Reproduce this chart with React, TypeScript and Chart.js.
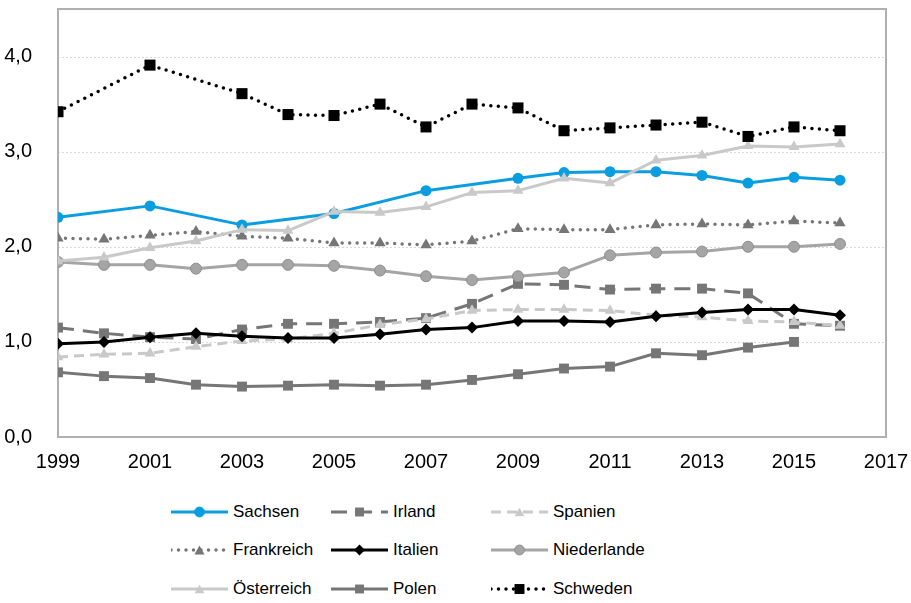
import React, { useEffect, useRef } from "react";
import { Chart, registerables } from "chart.js";
Chart.register(...registerables);

const years = [1999, 2000, 2001, 2002, 2003, 2004, 2005, 2006, 2007, 2008, 2009, 2010, 2011, 2012, 2013, 2014, 2015, 2016];
const sachsen = [2.31, null, 2.43, null, 2.23, null, 2.35, null, 2.59, null, 2.72, 2.78, 2.79, 2.79, 2.75, 2.67, 2.73, 2.70];
const irland = [1.15, 1.09, 1.05, 1.03, 1.13, 1.19, 1.19, 1.21, 1.25, 1.40, 1.61, 1.60, 1.55, 1.56, 1.56, 1.51, 1.19, 1.17];
const spanien = [0.84, 0.87, 0.88, 0.95, 1.01, 1.03, 1.09, 1.18, 1.24, 1.33, 1.34, 1.34, 1.33, 1.28, 1.26, 1.22, 1.21, 1.17];
const frankreich = [2.09, 2.08, 2.12, 2.16, 2.11, 2.09, 2.04, 2.04, 2.02, 2.06, 2.19, 2.18, 2.18, 2.23, 2.24, 2.23, 2.27, 2.25];
const italien = [0.98, 1.00, 1.05, 1.09, 1.06, 1.04, 1.04, 1.08, 1.13, 1.15, 1.22, 1.22, 1.21, 1.27, 1.31, 1.34, 1.34, 1.28];
const niederlande = [1.84, 1.81, 1.81, 1.77, 1.81, 1.81, 1.80, 1.75, 1.69, 1.65, 1.69, 1.73, 1.91, 1.94, 1.95, 2.00, 2.00, 2.03];
const oesterreich = [1.85, 1.89, 1.99, 2.06, 2.18, 2.17, 2.37, 2.36, 2.42, 2.57, 2.59, 2.72, 2.67, 2.91, 2.96, 3.06, 3.05, 3.08];
const polen = [0.68, 0.64, 0.62, 0.55, 0.53, 0.54, 0.55, 0.54, 0.55, 0.60, 0.66, 0.72, 0.74, 0.88, 0.86, 0.94, 1.00, null];
const schweden = [3.42, null, 3.91, null, 3.61, 3.39, 3.38, 3.50, 3.26, 3.50, 3.46, 3.22, 3.25, 3.28, 3.31, 3.16, 3.26, 3.22];

const xTicks = [1999, 2001, 2003, 2005, 2007, 2009, 2011, 2013, 2015, 2017];
const yTicks = [0, 1, 2, 3, 4];

type S = {
  name: string;
  data: (number | null)[];
  color: string;
  dash: number[];
  cap: CanvasLineCap;
  width: number;
  point: string;
  radius: number;
  pointBorder?: string;
};

const series: S[] = [
  { name: "Sachsen", data: sachsen, color: "#0a9ee0", dash: [], cap: "butt", width: 3, point: "circle", radius: 5.5 },
  { name: "Irland", data: irland, color: "#767676", dash: [16, 9], cap: "butt", width: 3, point: "rect", radius: 7 },
  { name: "Spanien", data: spanien, color: "#c9c9c9", dash: [10, 6], cap: "butt", width: 3, point: "triangle", radius: 6.3 },
  { name: "Frankreich", data: frankreich, color: "#767676", dash: [0, 7.5], cap: "round", width: 3.5, point: "triangle", radius: 6.5 },
  { name: "Italien", data: italien, color: "#000000", dash: [], cap: "butt", width: 3, point: "rectRot", radius: 6 },
  { name: "Niederlande", data: niederlande, color: "#a5a5a5", dash: [], cap: "butt", width: 3, point: "circle", radius: 5.5, pointBorder: "#8f8f8f" },
  { name: "Österreich", data: oesterreich, color: "#c9c9c9", dash: [], cap: "butt", width: 3, point: "triangle", radius: 6.3 },
  { name: "Polen", data: polen, color: "#767676", dash: [], cap: "butt", width: 3, point: "rect", radius: 7 },
  { name: "Schweden", data: schweden, color: "#000000", dash: [0, 7.5], cap: "round", width: 3.5, point: "rect", radius: 7.8 },
];

const FONT = "'Liberation Sans', Arial, sans-serif";

const framePlugin = {
  id: "frame",
  beforeDatasetsDraw(chart: any) {
    const { ctx, chartArea: a, scales } = chart;
    const y = scales.y;
    ctx.save();
    ctx.strokeStyle = "#d9d9d9";
    ctx.lineWidth = 1;
    ctx.setLineDash([2, 2]);
    for (const t of [1, 2, 3, 4]) {
      const py = Math.round(y.getPixelForValue(t)) + 0.5;
      ctx.beginPath();
      ctx.moveTo(a.left, py);
      ctx.lineTo(a.right, py);
      ctx.stroke();
    }
    ctx.setLineDash([]);
    ctx.strokeStyle = "#b0b0b0";
    ctx.lineWidth = 2;
    ctx.strokeRect(a.left, a.top, a.right - a.left, a.bottom - a.top);
    ctx.restore();
  },
};

function Marker({ s, cx, cy }: { s: S; cx: number; cy: number }) {
  const r = s.radius * 0.9;
  const stroke = s.pointBorder || s.color;
  if (s.point === "circle") return <circle cx={cx} cy={cy} r={r} fill={s.color} stroke={stroke} strokeWidth={1} />;
  if (s.point === "rect") {
    const h = r * Math.SQRT1_2;
    return <rect x={cx - h} y={cy - h} width={2 * h} height={2 * h} fill={s.color} />;
  }
  if (s.point === "rectRot")
    return <polygon points={`${cx},${cy - r} ${cx + r},${cy} ${cx},${cy + r} ${cx - r},${cy}`} fill={s.color} />;
  const p = [0, 1, 2].map((k) => {
    const ang = (k * 2 * Math.PI) / 3;
    return `${cx + Math.sin(ang) * r},${cy - Math.cos(ang) * r + r * 0.25}`;
  });
  return <polygon points={p.join(" ")} fill={s.color} />;
}

const noPad = (s: any) => {
  s.paddingTop = 0;
  s.paddingBottom = 0;
  s.paddingLeft = 0;
  s.paddingRight = 0;
};

export default function App() {
  const ref = useRef<HTMLCanvasElement>(null);
  useEffect(() => {
    const chart = new Chart(ref.current!, {
      type: "line",
      data: {
        datasets: series.map((s, i) => ({
          label: s.name,
          data: years.map((x, j) => ({ x, y: s.data[j] })),
          borderColor: s.color,
          backgroundColor: s.color,
          borderWidth: s.width,
          borderDash: s.dash,
          borderCapStyle: s.cap,
          borderJoinStyle: "round",
          pointStyle: s.point,
          pointRadius: s.radius,
          pointBackgroundColor: s.color,
          pointBorderColor: s.pointBorder || s.color,
          pointBorderWidth: s.pointBorder ? 1 : 0,
          spanGaps: true,
          tension: 0,
          fill: false,
          order: -i,
        })) as any,
      },
      options: {
        animation: false,
        responsive: false,
        maintainAspectRatio: false,
        devicePixelRatio: 1,
        layout: { padding: { left: 0, right: 25, top: 9, bottom: 0 } },
        plugins: { legend: { display: false }, tooltip: { enabled: false } },
        scales: {
          x: {
            type: "linear",
            min: 1999,
            max: 2017,
            afterBuildTicks: (s: any) => {
              s.ticks = xTicks.map((v) => ({ value: v }));
            },
            afterFit: (s: any) => {
              s.height = 53;
              noPad(s);
            },
            grid: { display: false },
            border: { display: false },
            ticks: {
              padding: 5,
              color: "#000",
              font: { family: FONT, size: 20 },
              maxRotation: 0,
              autoSkip: false,
              callback: (v: any) => String(v),
            },
          },
          y: {
            type: "linear",
            min: 0,
            max: 4.5,
            afterBuildTicks: (s: any) => {
              s.ticks = yTicks.map((v) => ({ value: v }));
            },
            afterFit: (s: any) => {
              s.width = 58;
              noPad(s);
            },
            grid: { display: false },
            border: { display: false },
            ticks: {
              padding: 18,
              color: "#000",
              font: { family: FONT, size: 20 },
              callback: (v: any) => Number(v).toFixed(1).replace(".", ","),
            },
          },
        },
      },
      plugins: [framePlugin],
    });
    return () => chart.destroy();
  }, []);

  const colX = [171, 331, 491];
  const rowY = [512, 550, 589];

  return (
    <div style={{ position: "fixed", left: 0, top: 0, width: 911, height: 603, background: "#fff", fontFamily: FONT }}>
      <canvas ref={ref} width={911} height={490} style={{ display: "block", width: 911, height: 490 }} />
      {series.map((s, i) => {
        const cx = colX[i % 3];
        const cy = rowY[Math.floor(i / 3)];
        return (
          <div key={s.name} style={{ position: "absolute", left: cx, top: cy - 12, height: 24, display: "flex", alignItems: "center" }}>
            <svg width={57} height={24} style={{ display: "block" }}>
              <line
                x1={0}
                y1={12}
                x2={57}
                y2={12}
                stroke={s.color}
                strokeWidth={s.width}
                strokeDasharray={s.dash.length ? s.dash.join(" ") : undefined}
                strokeLinecap={s.cap}
              />
              <Marker s={s} cx={28.5} cy={12} />
            </svg>
            <span style={{ marginLeft: 5, fontSize: 17, color: "#000", whiteSpace: "nowrap", lineHeight: "24px" }}>{s.name}</span>
          </div>
        );
      })}
    </div>
  );
}
